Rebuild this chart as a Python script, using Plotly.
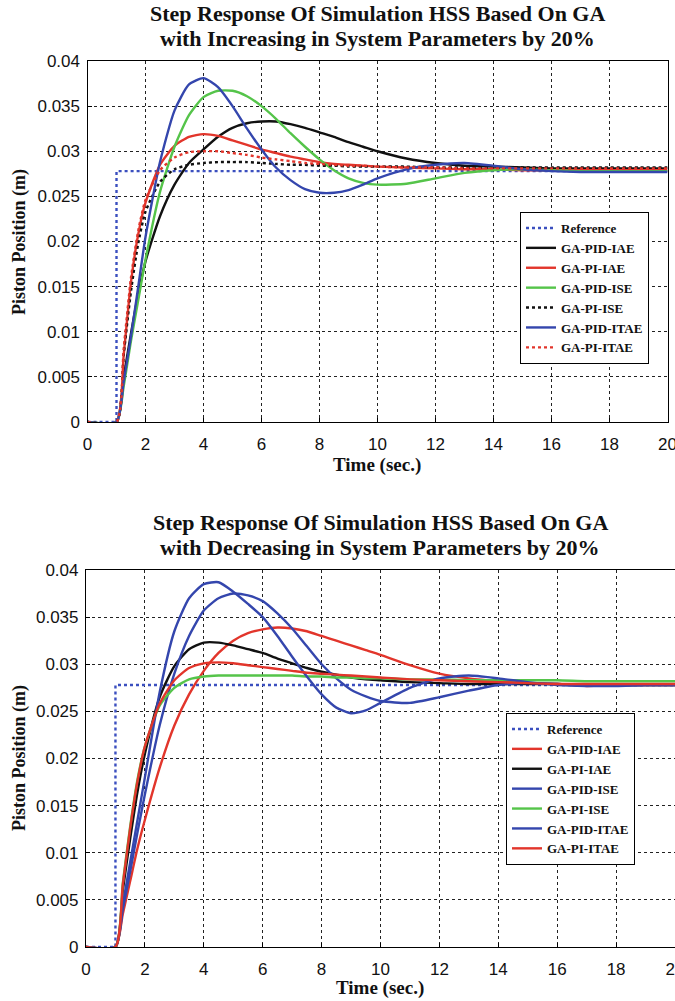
import plotly.graph_objects as go

# time samples (sec.)
t = [0, 1, 1.25, 1.5, 1.75, 2, 2.5, 3, 3.5, 4, 4.5, 5, 5.5, 6, 6.5, 7, 7.5, 8, 8.5,
     9, 9.5, 10, 11, 12, 13, 14, 15, 16, 17, 18, 19, 20]

ref_t = [0, 1, 1, 20]
ref_y = [0, 0, 0.0278, 0.0278]

# --- increasing system parameters by 20% ---
inc_pid_iae = [0, 0, 0.005, 0.0098, 0.0142, 0.0178, 0.0228, 0.0263, 0.0287, 0.0302, 0.0316, 0.0326,
               0.0331, 0.0333, 0.0333, 0.0330, 0.0326, 0.0321, 0.0316, 0.0310, 0.0305, 0.0300,
               0.0292, 0.0287, 0.0284, 0.0283, 0.0282, 0.0281, 0.0281, 0.0281, 0.0281, 0.0281]
inc_pi_iae = [0, 0, 0.0075, 0.0155, 0.0208, 0.0243, 0.0285, 0.0306, 0.0316, 0.0319, 0.0317, 0.0312,
              0.0307, 0.0302, 0.0298, 0.0294, 0.0291, 0.0288, 0.0286, 0.0285, 0.0284, 0.0283,
              0.0282, 0.0281, 0.0280, 0.0280, 0.0279, 0.0279, 0.0279, 0.0279, 0.0279, 0.0279]
inc_pid_ise = [0, 0, 0.004, 0.009, 0.0135, 0.018, 0.0255, 0.0305, 0.0340, 0.0360, 0.0367, 0.0367,
               0.0361, 0.0350, 0.0336, 0.0320, 0.0305, 0.0291, 0.0279, 0.0270, 0.0265, 0.0263,
               0.0264, 0.0270, 0.0276, 0.0279, 0.0280, 0.0279, 0.0278, 0.0278, 0.0278, 0.0278]
inc_pi_ise = [0, 0, 0.0075, 0.0145, 0.0198, 0.0233, 0.0266, 0.0280, 0.0285, 0.0287, 0.0288, 0.0288,
              0.0288, 0.0287, 0.0286, 0.0285, 0.0285, 0.0284, 0.0284, 0.0283, 0.0283, 0.0283,
              0.0283, 0.0282, 0.0282, 0.0282, 0.0282, 0.0282, 0.0282, 0.0282, 0.0282, 0.0282]
inc_pid_itae = [0, 0, 0.0045, 0.0095, 0.015, 0.0205, 0.0288, 0.0345, 0.0374, 0.0381, 0.0371, 0.0350,
                0.0325, 0.0302, 0.0282, 0.0268, 0.0258, 0.0254, 0.0254, 0.0257, 0.0263, 0.0270,
                0.0280, 0.0285, 0.0287, 0.0284, 0.0280, 0.0278, 0.0277, 0.0277, 0.0277, 0.0277]
inc_pi_itae = [0, 0, 0.0082, 0.016, 0.0212, 0.0246, 0.0279, 0.0293, 0.0299, 0.0300, 0.0300, 0.0298,
               0.0296, 0.0293, 0.0291, 0.0289, 0.0287, 0.0286, 0.0285, 0.0284, 0.0284, 0.0283,
               0.0282, 0.0282, 0.0281, 0.0281, 0.0281, 0.0281, 0.0281, 0.0281, 0.0281, 0.0281]

# --- decreasing system parameters by 20% ---
dec_pid_iae = [0, 0, 0.0035, 0.007, 0.0105, 0.0135, 0.019, 0.0235, 0.0268, 0.0293, 0.0312, 0.0325,
               0.0333, 0.0337, 0.0339, 0.0338, 0.0335, 0.0330, 0.0325, 0.0320, 0.0315, 0.0310,
               0.0299, 0.0290, 0.0285, 0.0282, 0.0280, 0.0279, 0.0277, 0.0278, 0.0278, 0.0278]
dec_pi_iae = [0, 0, 0.006, 0.0115, 0.0165, 0.0205, 0.0265, 0.0298, 0.0316, 0.0323, 0.0323, 0.0320,
              0.0316, 0.0312, 0.0306, 0.0301, 0.0296, 0.0292, 0.0289, 0.0286, 0.0284, 0.0283,
              0.0281, 0.0280, 0.0279, 0.0279, 0.0279, 0.0279, 0.0278, 0.0278, 0.0278, 0.0278]
dec_pid_ise = [0, 0, 0.004, 0.008, 0.0122, 0.0162, 0.0235, 0.0290, 0.0330, 0.0357, 0.0370, 0.0375,
               0.0373, 0.0367, 0.0354, 0.0338, 0.0319, 0.0300, 0.0285, 0.0273, 0.0266, 0.0261,
               0.0259, 0.0265, 0.0272, 0.0278, 0.0280, 0.0279, 0.0278, 0.0278, 0.0278, 0.0278]
dec_pi_ise = [0, 0, 0.0068, 0.0128, 0.0178, 0.0213, 0.0256, 0.0275, 0.0284, 0.0287, 0.0288, 0.0288,
              0.0288, 0.0288, 0.0288, 0.0288, 0.0287, 0.0287, 0.0286, 0.0286, 0.0285, 0.0285,
              0.0284, 0.0284, 0.0283, 0.0283, 0.0283, 0.0283, 0.0282, 0.0282, 0.0282, 0.0282]
dec_pid_itae = [0, 0, 0.0045, 0.009, 0.0135, 0.018, 0.027, 0.0335, 0.0370, 0.0385, 0.0387, 0.0377,
                0.0364, 0.0350, 0.0330, 0.0308, 0.0287, 0.0268, 0.0254, 0.0248, 0.0251, 0.0259,
                0.0275, 0.0285, 0.0288, 0.0285, 0.0281, 0.0278, 0.0277, 0.0277, 0.0278, 0.0278]
dec_pi_itae = [0, 0, 0.0066, 0.0126, 0.0176, 0.0213, 0.0258, 0.0283, 0.0296, 0.0301, 0.0302, 0.0301,
               0.0299, 0.0297, 0.0295, 0.0293, 0.0291, 0.0290, 0.0289, 0.0288, 0.0287, 0.0286,
               0.0284, 0.0283, 0.0282, 0.0281, 0.0280, 0.0279, 0.0279, 0.0279, 0.0279, 0.0279]

x_ticks = [0, 2, 4, 6, 8, 10, 12, 14, 16, 18, 20]
y_ticks = [0, 0.005, 0.01, 0.015, 0.02, 0.025, 0.03, 0.035, 0.04]
y_labels = ["0", "0.005", "0.01", "0.015", "0.02", "0.025", "0.03", "0.035", "0.04"]

BLUE = "#3446ad"
REF_BLUE = "#3b4fbf"
RED = "#e2352b"
GREEN = "#55c44a"
BLACK = "#111111"

top_series = [
    ("GA-PID-IAE", inc_pid_iae, BLACK, "solid"),
    ("GA-PI-IAE", inc_pi_iae, RED, "solid"),
    ("GA-PID-ISE", inc_pid_ise, GREEN, "solid"),
    ("GA-PI-ISE", inc_pi_ise, BLACK, "dot"),
    ("GA-PID-ITAE", inc_pid_itae, BLUE, "solid"),
    ("GA-PI-ITAE", inc_pi_itae, RED, "dot"),
]
bottom_series = [
    ("GA-PID-IAE", dec_pid_iae, RED, "solid"),
    ("GA-PI-IAE", dec_pi_iae, BLACK, "solid"),
    ("GA-PID-ISE", dec_pid_ise, BLUE, "solid"),
    ("GA-PI-ISE", dec_pi_ise, GREEN, "solid"),
    ("GA-PID-ITAE", dec_pid_itae, BLUE, "solid"),
    ("GA-PI-ITAE", dec_pi_itae, RED, "solid"),
]

W, H = 675, 1001
SERIF = "Liberation Serif"
SANS = "Liberation Sans"

fig = go.Figure()


def add_panel(series, xa, ya, legend):
    fig.add_trace(go.Scatter(
        x=ref_t, y=ref_y, mode="lines", name="Reference",
        line=dict(color=REF_BLUE, width=2.4, dash="dot"),
        xaxis=xa, yaxis=ya, legend=legend))
    for name, vals, color, dash in series:
        fig.add_trace(go.Scatter(
            x=t, y=vals, mode="lines", name=name,
            line=dict(color=color, width=2.4, dash=dash, shape="spline", smoothing=0.6),
            xaxis=xa, yaxis=ya, legend=legend))


add_panel(top_series, "x", "y", "legend")
add_panel(bottom_series, "x2", "y2", "legend2")

axis_common = dict(
    showline=True, mirror=True, linecolor="black", linewidth=1.2,
    ticks="inside", ticklen=4, tickcolor="black",
    showgrid=True, gridcolor="#222222", griddash="3px,3px", gridwidth=0.7,
    zeroline=False, automargin=False, ticklabeloverflow="allow",
    tickfont=dict(family=SANS, size=17, color="#111111"),
)
xcommon = dict(axis_common, range=[0, 20], tickmode="array", tickvals=x_ticks, ticklabelstandoff=6)
ycommon = dict(axis_common, range=[0, 0.04], tickmode="array", tickvals=y_ticks, ticktext=y_labels,
               ticklabelstandoff=3)


def fx(px):
    return px / W


def fy(py):
    return (H - py) / H


legend_style = dict(xanchor="left", yanchor="top", bgcolor="white", bordercolor="black",
                    borderwidth=1, tracegroupgap=0,
                    font=dict(family=SERIF, size=13, color="#111111", weight="bold"))

fig.update_layout(
    template="none",
    width=W, height=H,
    margin=dict(l=0, r=0, t=0, b=0, autoexpand=False),
    paper_bgcolor="white", plot_bgcolor="white",
    xaxis=dict(xcommon, domain=[fx(87.5), fx(667.5)], anchor="y"),
    yaxis=dict(ycommon, domain=[fy(422), fy(61)], anchor="x"),
    xaxis2=dict(xcommon, domain=[fx(86), 1.0], anchor="y2"),
    yaxis2=dict(ycommon, domain=[fy(947), fy(570)], anchor="x2"),
    legend=dict(legend_style, x=fx(520), y=fy(212)),
    legend2=dict(legend_style, x=fx(506), y=fy(713)),
    showlegend=True,
)

texts = [
    ("Step Response Of Simulation HSS Based On GA", 377, 14, 22, 0),
    ("with Increasing in System Parameters by 20%", 377, 38, 22, 0),
    ("Step Response Of Simulation HSS Based On GA", 380, 522, 22, 0),
    ("with Decreasing in System Parameters by 20%", 380, 547, 22, 0),
    ("Time (sec.)", 377, 465, 19, 0),
    ("Time (sec.)", 380, 988, 19, 0),
    ("Piston Position (m)", 19, 242, 18, -90),
    ("Piston Position (m)", 19, 758, 18, -90),
]
for text, px, py, size, angle in texts:
    fig.add_annotation(text=f"<b>{text}</b>", x=fx(px), y=fy(py), xref="paper", yref="paper",
                       showarrow=False, xanchor="center", yanchor="middle", textangle=angle,
                       font=dict(family=SERIF, size=size, color="#111111"))

# page body has a default 8px margin; drop it so the figure sits at the window origin
fig.write_html("out.html", config={"displayModeBar": False},
               post_script="document.body.style.margin='0';")
